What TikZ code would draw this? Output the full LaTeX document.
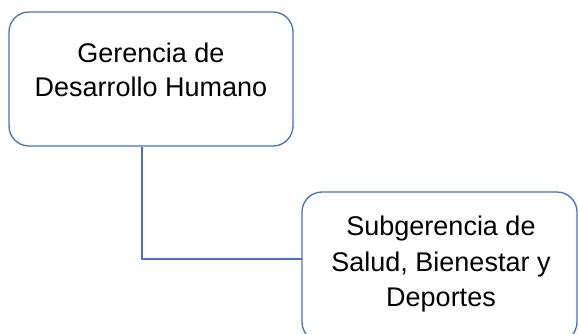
\documentclass[tikz,border=0pt]{standalone}
\usepackage{fontspec}
\setmainfont{Liberation Sans}
\definecolor{boxblue}{HTML}{4472C4}
\begin{document}
\begin{tikzpicture}[x=1pt,y=-1pt,
  box/.style={draw=boxblue,line width=1.3pt,rounded corners=20pt,fill=white,inner sep=0pt},
  lbl/.style={anchor=base,inner sep=0pt,font=\fontsize{27}{32}\selectfont,text=black},
  link/.style={draw=boxblue,line width=1.3pt}]
\useasboundingbox (0,0) rectangle (578,334);
\clip (0,0) rectangle (578,334);
\node[box,minimum width=284pt,minimum height=134pt] (box1) at (151,79) {};
\node[box,minimum width=275pt,minimum height=150pt] (box2) at (439.5,267) {};
\coordinate (j) at (302,259);
\draw[link] ([xshift=133.5pt]box1.south west) |- (j);
\node[lbl] (t1) at (151,63) {Gerencia de};
\node[lbl] (t2) at (151,97) {Desarrollo Humano};
\node[lbl] (t3) at (441,235) {Subgerencia de};
\node[lbl] (t4) at (441,271) {Salud, Bienestar y};
\node[lbl] (t5) at (441,306) {Deportes};
\end{tikzpicture}
\end{document}
